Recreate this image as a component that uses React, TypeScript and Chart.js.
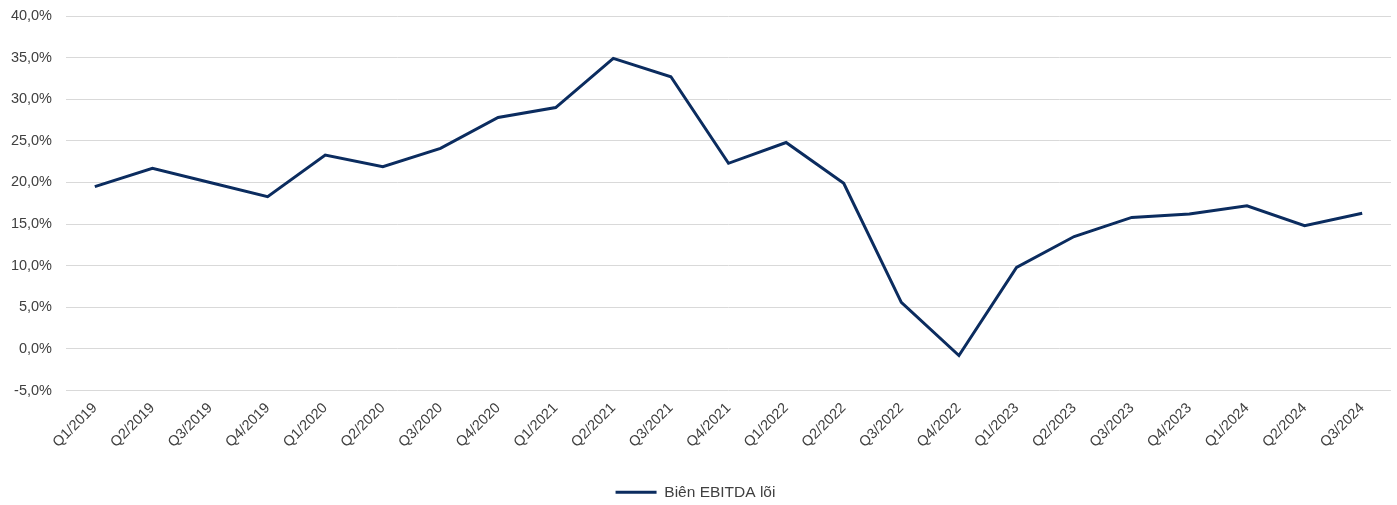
import React, { useEffect, useRef } from "react";
import { Chart, registerables } from "chart.js";

Chart.register(...registerables);

const categories = [
  "Q1/2019", "Q2/2019", "Q3/2019", "Q4/2019",
  "Q1/2020", "Q2/2020", "Q3/2020", "Q4/2020",
  "Q1/2021", "Q2/2021", "Q3/2021", "Q4/2021",
  "Q1/2022", "Q2/2022", "Q3/2022", "Q4/2022",
  "Q1/2023", "Q2/2023", "Q3/2023", "Q4/2023",
  "Q1/2024", "Q2/2024", "Q3/2024",
];

const ebitdaMargin = [
  19.5, 21.7, 20.0, 18.3,
  23.3, 21.9, 24.1, 27.8,
  29.0, 34.9, 32.7, 22.3,
  24.8, 19.9, 5.6, -0.8,
  9.8, 13.5, 15.8, 16.2,
  17.2, 14.8, 16.3,
];

const seriesLabel = "Biên EBITDA lõi";
const yMin = -5;
const yMax = 40;
const yStep = 5;

export default function App() {
  const ref = useRef<HTMLCanvasElement | null>(null);

  useEffect(() => {
    if (!ref.current) return;
    const family = "'Liberation Sans', Arial, sans-serif";
    const font = { family, size: 14.5 };
    const color = "#0b2c5f";
    const chart = new Chart(ref.current, {
      type: "line",
      data: {
        labels: categories,
        datasets: [
          {
            label: seriesLabel,
            data: ebitdaMargin,
            borderColor: color,
            backgroundColor: color,
            borderWidth: 3,
            pointRadius: 0,
            tension: 0,
          },
        ],
      },
      options: {
        animation: false,
        responsive: false,
        maintainAspectRatio: false,
        layout: { padding: { top: 16, right: 6, left: 0, bottom: -5 } },
        scales: {
          x: {
            offset: true,
            grid: { display: false, drawTicks: false },
            border: { display: false },
            ticks: {
              font,
              color: "#404040",
              minRotation: 45,
              maxRotation: 45,
              padding: 9,
              autoSkip: false,
            },
            afterFit: (s: any) => {
              s.height = 90;
            },
          },
          y: {
            min: yMin,
            max: yMax,
            grid: { color: "#d9d9d9", lineWidth: 1, drawTicks: false },
            border: { display: false },
            ticks: {
              stepSize: yStep,
              font,
              color: "#404040",
              padding: 14,
              callback: (v: any) => Number(v).toFixed(1).replace(".", ",") + "%",
            },
            afterFit: (s: any) => {
              s.width = 66;
              s.paddingTop = 0;
              s.paddingBottom = 0;
            },
          },
        },
        plugins: {
          legend: {
            position: "bottom",
            labels: {
              font: { family, size: 15.5 },
              color: "#404040",
              boxWidth: 41,
              boxHeight: 0,
              padding: 4,
            },
          },
          tooltip: { enabled: false },
        },
      },
    });
    return () => chart.destroy();
  }, []);

  return (
    <div style={{ position: "fixed", left: 0, top: 0, width: 1397, height: 505, background: "#fff" }}>
      <canvas ref={ref} width={1397} height={505} style={{ width: 1397, height: 505 }} />
    </div>
  );
}
